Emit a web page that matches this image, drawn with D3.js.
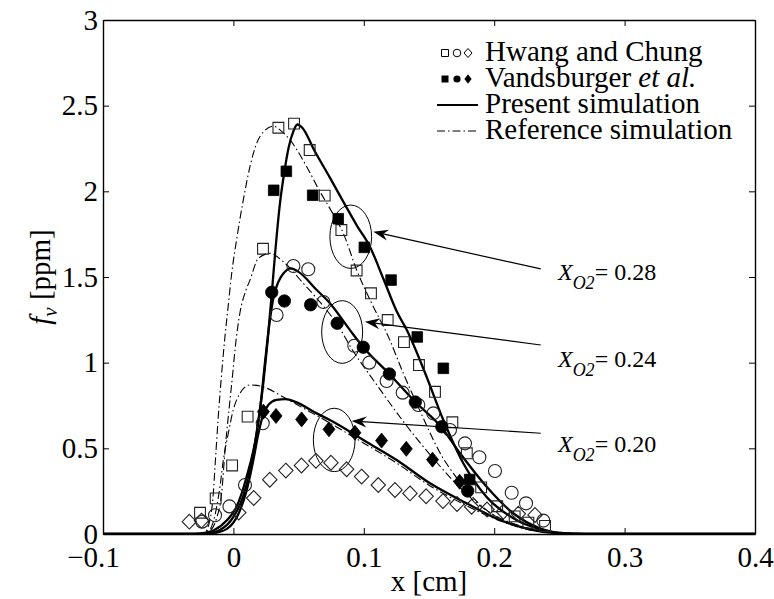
<!DOCTYPE html>
<html><head><meta charset="utf-8">
<script src="https://cdn.jsdelivr.net/npm/d3@7"></script>
<style>
body{margin:0;background:#fff}
text{font-family:"Liberation Serif","Times New Roman",serif;fill:#000}
</style>
</head><body>
<svg id="c" width="774" height="599"></svg>
<script>
// ---------- data ----------
const xTicks = [-0.1, 0, 0.1, 0.2, 0.3, 0.4];
const xTickLabels = ["\u22120.1", "0", "0.1", "0.2", "0.3", "0.4"];
const yTicks = [0, 0.5, 1, 1.5, 2, 2.5, 3];
const yTickLabels = ["0", "0.5", "1", "1.5", "2", "2.5", "3"];

// Hwang and Chung (open markers)
const hwangSqX = [-0.0256,-0.0136,-0.001,0.0109,0.0227,0.0345,0.0465,0.0585,0.070,0.0828,0.0945,0.1055,0.1183,0.1308,0.1423,0.1546,0.1679,0.179,0.190,0.2023,0.2157,0.2262,0.239];
const hwangSqY = [0.124,0.208,0.40,0.685,1.665,2.371,2.395,2.241,1.975,1.774,1.538,1.405,1.249,1.12,0.986,0.83,0.652,0.471,0.272,0.162,0.103,0.066,0.047];
const hwangCiX = [-0.024,-0.0141,-0.003,0.0089,0.0225,0.0331,0.046,0.0574,0.069,0.0927,0.1042,0.1175,0.1298,0.1418,0.1533,0.1661,0.1776,0.1886,0.2006,0.2134,0.2244,0.2377];
const hwangCiY = [0.072,0.109,0.161,0.286,0.646,1.278,1.564,1.545,1.354,1.099,1.0,0.893,0.825,0.753,0.704,0.607,0.529,0.448,0.368,0.241,0.179,0.078];
const hwangDiX = [-0.0338,-0.0245,0.0041,0.0156,0.0279,0.0402,0.0522,0.0633,0.0748,0.0868,0.0983,0.1111,0.1239,0.1354,0.1478,0.1607,0.1715,0.1827,0.1945,0.207,0.2185,0.2313];
const hwangDiY = [0.072,0.078,0.125,0.21,0.317,0.37,0.40,0.427,0.416,0.378,0.335,0.286,0.257,0.237,0.22,0.192,0.175,0.159,0.143,0.13,0.118,0.111];

// Vandsburger et al. (filled markers)
const vandSqX = [0.0309,0.0406,0.0608,0.0804,0.1004,0.1209,0.141,0.161,0.1812];
const vandSqY = [2.006,2.117,1.977,1.84,1.673,1.482,1.15,0.967,0.318];
const vandCiX = [0.0294,0.0391,0.0592,0.0796,0.0996,0.1196,0.1395,0.1598,0.1797];
const vandCiY = [1.411,1.36,1.338,1.23,1.09,0.934,0.77,0.626,0.251];
const vandDiX = [0.023,0.0327,0.0523,0.0733,0.0932,0.1136,0.1326,0.1527,0.1735];
const vandDiY = [0.714,0.689,0.669,0.611,0.591,0.545,0.497,0.434,0.305];

// Present simulation (solid)
const pres28X = [-0.1,-0.035,-0.025,-0.015,-0.005,0.0025,0.01,0.0179,0.0229,0.0265,0.0294,0.0319,0.0357,0.039,0.0425,0.046,0.049,0.053,0.062,0.074,0.085,0.0947,0.1047,0.115,0.1252,0.133,0.147,0.161,0.1763,0.194,0.217,0.238,0.25,0.27,0.4];
const pres28Y = [0,0,0.004,0.022,0.08,0.16,0.33,0.59,0.88,1.15,1.40,1.63,1.93,2.11,2.26,2.35,2.39,2.37,2.24,2.08,1.93,1.80,1.677,1.49,1.30,1.19,0.94,0.665,0.413,0.218,0.082,0.023,0.006,0,0];
const pres24X = [-0.1,-0.03,-0.02,-0.01,0,0.0075,0.013,0.018,0.0215,0.0242,0.028,0.031,0.0344,0.0383,0.044,0.05,0.0639,0.074,0.0894,0.0996,0.1196,0.1393,0.1592,0.1738,0.1942,0.2146,0.2351,0.25,0.27,0.4];
const pres24Y = [0,0,0.004,0.025,0.1,0.22,0.38,0.6,0.8,1.0,1.25,1.39,1.47,1.52,1.55,1.53,1.424,1.347,1.19,1.09,0.934,0.772,0.626,0.471,0.276,0.121,0.033,0.006,0,0];
const pres20X = [-0.1,-0.025,-0.015,-0.005,0.004,0.01,0.015,0.019,0.0229,0.027,0.033,0.04,0.048,0.0639,0.074,0.0894,0.0996,0.1252,0.1508,0.1789,0.2044,0.23,0.25,0.27,0.4];
const pres20Y = [0,0,0.005,0.03,0.12,0.25,0.42,0.58,0.70,0.755,0.783,0.787,0.77,0.704,0.665,0.597,0.549,0.432,0.296,0.179,0.082,0.023,0.004,0,0];

// Reference simulation (dash-dot)
const ref28X = [-0.1,-0.03,-0.022,-0.018,-0.0154,-0.0141,-0.0116,-0.009,-0.0065,-0.004,-0.0013,0.0025,0.0076,0.0127,0.0178,0.0235,0.0306,0.037,0.0434,0.0562,0.0664,0.0755,0.0843,0.0945,0.106,0.1188,0.1303,0.143,0.158,0.174,0.194,0.215,0.235,0.26,0.4];
const ref28Y = [0,0,0.01,0.082,0.238,0.393,0.685,0.938,1.15,1.33,1.522,1.72,1.95,2.144,2.28,2.35,2.38,2.35,2.3,2.144,1.998,1.88,1.755,1.541,1.347,1.152,0.938,0.72,0.48,0.30,0.14,0.06,0.02,0,0];
const ref24X = [-0.1,-0.028,-0.018,-0.013,-0.009,-0.0064,-0.0026,-0.0005,0.0012,0.005,0.0095,0.0127,0.0191,0.028,0.0383,0.0536,0.069,0.08,0.09,0.11,0.13,0.15,0.17,0.19,0.21,0.23,0.26,0.4];
const ref24Y = [0,0,0.02,0.09,0.238,0.49,0.782,0.938,1.074,1.29,1.42,1.482,1.609,1.638,1.589,1.463,1.33,1.22,1.09,0.87,0.66,0.47,0.30,0.16,0.07,0.025,0,0];
const ref20X = [-0.1,-0.028,-0.018,-0.0128,-0.0103,-0.0077,-0.0039,-0.0001,0.005,0.0127,0.0204,0.0383,0.05,0.07,0.1,0.125,0.15,0.175,0.2,0.23,0.26,0.4];
const ref20Y = [0,0,0.03,0.159,0.276,0.432,0.588,0.724,0.821,0.87,0.864,0.80,0.75,0.665,0.53,0.415,0.285,0.18,0.09,0.02,0,0];

// Annotations: ellipses, arrows, labels
const ellCX = [0.09, 0.0834, 0.0773];
const ellCY = [1.735, 1.179, 0.549];
const ellRX = [0.016, 0.0157, 0.016];
const ellRY = [0.185, 0.183, 0.185];
const arrowFromX = [0.2357, 0.2357, 0.2357];
const arrowFromY = [1.547, 1.103, 0.588];
const arrowToX = [0.1073, 0.1009, 0.0907];
const arrowToY = [1.764, 1.239, 0.66];
const annLabels = ["0.28", "0.24", "0.20"];
const annX = [0.2489, 0.2489, 0.2489];
const annY = [1.482, 0.977, 0.48];

const legendLabels = ["Hwang and Chung", "Vandsburger", "Present simulation", "Reference simulation"];

// ---------- drawing ----------
const svg = d3.select("#c");
const x = d3.scaleLinear().domain([-0.1, 0.4]).range([103, 755]);
const y = d3.scaleLinear().domain([0, 3]).range([534, 20]);
const FS = 29;

const zip = (xs, ys) => xs.map((v, i) => [v, ys[i]]);
const line = d3.line().x(d => x(d[0])).y(d => y(d[1])).curve(d3.curveMonotoneX);

const g = svg.append("g");
svg.append("clipPath").attr("id", "pc").append("rect")
  .attr("x", 103).attr("y", 20).attr("width", 652).attr("height", 514);
const plot = g.append("g").attr("clip-path", "url(#pc)");

// ellipses
ellCX.forEach((cx, i) => {
  plot.append("ellipse").attr("cx", x(cx)).attr("cy", y(ellCY[i]))
    .attr("rx", x(ellRX[i]) - x(0)).attr("ry", y(0) - y(ellRY[i]))
    .attr("fill", "none").attr("stroke", "#000").attr("stroke-width", 1);
});

// reference lines
[[ref28X, ref28Y], [ref24X, ref24Y], [ref20X, ref20Y]].forEach(([xs, ys]) => {
  plot.append("path").attr("d", line(zip(xs, ys))).attr("fill", "none")
    .attr("stroke", "#000").attr("stroke-width", 1.1).attr("stroke-dasharray", "8,3,1.5,3");
});
// present lines
[[pres28X, pres28Y], [pres24X, pres24Y], [pres20X, pres20Y]].forEach(([xs, ys]) => {
  plot.append("path").attr("d", line(zip(xs, ys))).attr("fill", "none")
    .attr("stroke", "#000").attr("stroke-width", 2.3).attr("stroke-linejoin", "round");
});

// marker path helpers
function sq(cx, cy, h) { return `M${cx-h},${cy-h}h${2*h}v${2*h}h${-2*h}Z`; }
function di(cx, cy, w, h) { return `M${cx},${cy-h}L${cx+w},${cy}L${cx},${cy+h}L${cx-w},${cy}Z`; }

function drawMarkers(xs, ys, type, filled, parent, size) {
  xs.forEach((vx, i) => {
    const cx = x(vx), cy = y(ys[i]);
    let el;
    if (type === "c") {
      el = parent.append("circle").attr("cx", cx).attr("cy", cy).attr("r", size);
    } else if (type === "s") {
      el = parent.append("path").attr("d", sq(cx, cy, size));
    } else {
      el = parent.append("path").attr("d", di(cx, cy, size[0], size[1]));
    }
    el.attr("fill", filled ? "#000" : "none").attr("stroke", filled ? "#000" : "#222")
      .attr("stroke-width", filled ? 0.8 : 1.1);
  });
}
drawMarkers(hwangSqX, hwangSqY, "s", false, plot, 5.4);
drawMarkers(hwangCiX, hwangCiY, "c", false, plot, 6.5);
drawMarkers(hwangDiX, hwangDiY, "d", false, plot, [7.2, 7.4]);
drawMarkers(vandSqX, vandSqY, "s", true, plot, 5.3);
drawMarkers(vandCiX, vandCiY, "c", true, plot, 6.2);
drawMarkers(vandDiX, vandDiY, "d", true, plot, [6, 7.5]);

// arrows
arrowFromX.forEach((fx, i) => {
  const sx = x(fx), sy = y(arrowFromY[i]);
  const tx = x(arrowToX[i]), ty = y(arrowToY[i]);
  const a = Math.atan2(ty - sy, tx - sx);
  const ux = Math.cos(a), uy = Math.sin(a), nx = -uy, ny = ux;
  const L = 15, W = 5.5, N = 10;
  const bx = tx - L * ux, by = ty - L * uy;
  const mx = tx - N * ux, my = ty - N * uy;
  g.append("line").attr("x1", sx).attr("y1", sy).attr("x2", mx).attr("y2", my)
    .attr("stroke", "#000").attr("stroke-width", 1.2);
  g.append("path")
    .attr("d", `M${tx},${ty}L${bx + W*nx},${by + W*ny}L${mx},${my}L${bx - W*nx},${by - W*ny}Z`)
    .attr("fill", "#000");
});

// annotation labels
annLabels.forEach((lab, i) => {
  const t = g.append("text").attr("x", x(annX[i])).attr("y", y(annY[i])).attr("font-size", 24);
  t.append("tspan").attr("font-style", "italic").text("X");
  t.append("tspan").attr("font-style", "italic").attr("font-size", 18).attr("dy", 9).text("O2");
  t.append("tspan").attr("dy", -9).text("= " + lab);
});

// axes
const axB = d3.axisBottom(x).tickValues(xTicks).tickSizeInner(-6).tickSizeOuter(0).tickPadding(12)
  .tickFormat((d, i) => xTickLabels[i]);
const axT = d3.axisTop(x).tickValues(xTicks).tickSizeInner(-6).tickSizeOuter(0).tickFormat("");
const axL = d3.axisLeft(y).tickValues(yTicks).tickSizeInner(-6).tickSizeOuter(0).tickPadding(5)
  .tickFormat((d, i) => yTickLabels[i]);
const axR = d3.axisRight(y).tickValues(yTicks).tickSizeInner(-6).tickSizeOuter(0).tickFormat("");

function styleAxis(sel) {
  sel.selectAll("path.domain").attr("stroke", "#000").attr("stroke-width", 1.4);
  sel.selectAll(".tick line").attr("stroke", "#000").attr("stroke-width", 1);
  sel.selectAll("text").attr("font-size", FS).attr("fill", "#000");
}
const gB = g.append("g").attr("transform", "translate(0,534)").call(axB);
styleAxis(gB);
gB.selectAll(".tick text").filter(d => d < 0).attr("dx", -10);
styleAxis(g.append("g").attr("transform", "translate(0,20)").call(axT));
styleAxis(g.append("g").attr("transform", "translate(103,0)").call(axL));
styleAxis(g.append("g").attr("transform", "translate(755,0)").call(axR));

// axis titles
g.append("text").attr("x", 429).attr("y", 591).attr("text-anchor", "middle").attr("font-size", FS).text("x [cm]");
const yl = g.append("text").attr("transform", "translate(50,277) rotate(-90)").attr("text-anchor", "middle").attr("font-size", FS);
yl.append("tspan").attr("font-style", "italic").text("f");
yl.append("tspan").attr("font-style", "italic").attr("font-size", 21).attr("dy", 7).text("v");
yl.append("tspan").attr("dy", -7).text(" [ppm]");

// legend
const leg = g.append("g");
const rowY = [61, 87, 113, 139];
const mk = [445, 457, 468];
const lc = rowY.map(v => v - 8);
leg.append("path").attr("d", sq(mk[0], lc[0], 3.5)).attr("fill", "none").attr("stroke", "#000").attr("stroke-width", 1);
leg.append("circle").attr("cx", mk[1]).attr("cy", lc[0]).attr("r", 3.8).attr("fill", "none").attr("stroke", "#000").attr("stroke-width", 1);
leg.append("path").attr("d", di(mk[2], lc[0], 4, 4.5)).attr("fill", "none").attr("stroke", "#000").attr("stroke-width", 1);
leg.append("path").attr("d", sq(mk[0], lc[1], 3.5)).attr("fill", "#000");
leg.append("circle").attr("cx", mk[1]).attr("cy", lc[1]).attr("r", 3.6).attr("fill", "#000");
leg.append("path").attr("d", di(mk[2], lc[1], 3.6, 4.8)).attr("fill", "#000");
leg.append("line").attr("x1", 437).attr("x2", 478).attr("y1", lc[2]).attr("y2", lc[2]).attr("stroke", "#000").attr("stroke-width", 2);
leg.append("line").attr("x1", 437).attr("x2", 478).attr("y1", lc[3]).attr("y2", lc[3]).attr("stroke", "#000").attr("stroke-width", 1).attr("stroke-dasharray", "8,3,1.5,3");
legendLabels.forEach((lab, i) => {
  const t = leg.append("text").attr("x", 485).attr("y", rowY[i]).attr("font-size", FS);
  t.append("tspan").text(lab);
  if (i === 1) t.append("tspan").attr("font-style", "italic").text(" et al.");
});
</script>
</body></html>
